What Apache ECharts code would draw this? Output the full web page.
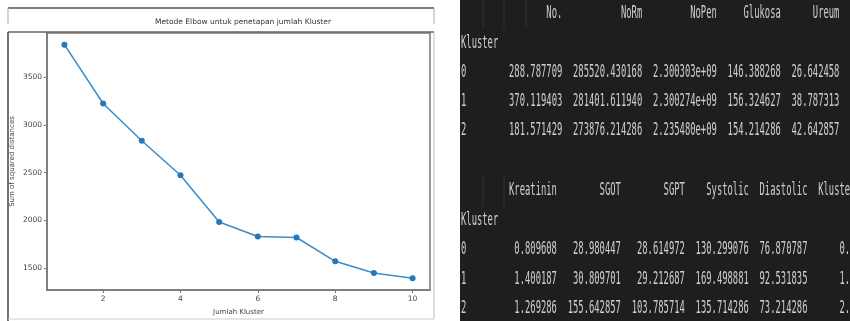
<!DOCTYPE html>
<html>
<head>
<meta charset="utf-8">
<script src="https://cdn.jsdelivr.net/npm/echarts@6/dist/echarts.min.js"></script>
<style>
  html, body { margin: 0; padding: 0; background: #fff; }
  #chart { width: 850px; height: 321px; }
</style>
</head>
<body>
<div id="chart"></div>
<script>
// elbow curve
const kluster = [1, 2, 3, 4, 5, 6, 7, 8, 9, 10];
const sse = [3842, 3225, 2835, 2473, 1983, 1831, 1821, 1572, 1449, 1393];
const xTicks = [2, 4, 6, 8, 10];
const yTicks = [1500, 2000, 2500, 3000, 3500];

// cluster mean tables (pandas output)
const indexName = 'Kluster';
const rowLabels = ['0', '1', '2'];
const cols1 = ['No.', 'NoRm', 'NoPen', 'Glukosa', 'Ureum'];
const rows1 = [
  ['288.787709', '285520.430168', '2.300303e+09', '146.388268', '26.642458'],
  ['370.119403', '281401.611940', '2.300274e+09', '156.324627', '38.787313'],
  ['181.571429', '273876.214286', '2.235480e+09', '154.214286', '42.642857']
];
const cols2 = ['Kreatinin', 'SGOT', 'SGPT', 'Systolic', 'Diastolic', 'Kluster'];
const rows2 = [
  ['0.809608', '28.980447', '28.614972', '130.299076', '76.870787', '0.0'],
  ['1.400187', '30.809701', '29.212687', '169.498881', '92.531835', '1.0'],
  ['1.269286', '155.642857', '103.785714', '135.714286', '73.214286', '2.0']
];

const chart = echarts.init(document.getElementById('chart'));

const MONO = '"DejaVu Sans Mono", "Liberation Mono", monospace';
const CH = 5.33;   // char advance in the squeezed screenshot
const X0 = 461;
const SQ = 0.52;   // horizontal squeeze
const TXT = '#cfcfcf';

function cellText(str, x, y, align) {
  return {
    type: 'text',
    x: x,
    y: y,
    scaleX: SQ,
    silent: true,
    style: {
      x: 0, y: 0,
      text: str,
      fill: TXT,
      font: '17px ' + MONO,
      textAlign: align,
      textVerticalAlign: 'middle'
    }
  };
}

function tableGraphics(cols, rows, ys) {
  const out = [];
  // column right edges, pandas style: width = max(header, values) + 2 spaces
  let end = indexName.length;
  const ends = cols.map((c, j) => {
    let w = c.length;
    rows.forEach((r) => { w = Math.max(w, r[j].length); });
    end += 2 + w;
    return end;
  });
  cols.forEach((c, j) => out.push(cellText(c, X0 + ends[j] * CH, ys[0], 'right')));
  out.push(cellText(indexName, X0, ys[1], 'left'));
  rows.forEach((r, i) => {
    out.push(cellText(rowLabels[i], X0, ys[i + 2], 'left'));
    r.forEach((v, j) => out.push(cellText(v, X0 + ends[j] * CH, ys[i + 2], 'right')));
  });
  return out;
}

function line(x1, y1, x2, y2, color, width) {
  return {
    type: 'line',
    silent: true,
    shape: { x1: x1, y1: y1, x2: x2, y2: y2 },
    style: { stroke: color, lineWidth: width || 1 }
  };
}

const graphics = [
  // frames round the matplotlib screenshot
  line(8, 8, 434, 8, '#555', 1.5),
  line(8, 8, 8, 24, '#aaa'),
  line(434, 8, 434, 24, '#aaa'),
  line(8, 32, 434, 32, '#666', 1.5),
  line(8, 32, 8, 321, '#444', 1.5),
  line(434, 32, 434, 319, '#bbb'),
  line(8, 319, 434, 319, '#ccc'),
  // dark table panel
  {
    type: 'rect',
    silent: true,
    shape: { x: 460, y: 0, width: 390, height: 321 },
    style: { fill: '#1e1e1e' }
  },
  line(483, 0, 483, 28, '#333'),
  line(504, 0, 504, 28, '#333'),
  line(526, 0, 526, 28, '#333'),
  line(483, 176, 483, 206, '#333'),
  line(504, 176, 504, 206, '#333')
]
  .concat(tableGraphics(cols1, rows1, [14, 44, 73, 102, 131]))
  .concat(tableGraphics(cols2, rows2, [191, 221, 250, 280, 309]));

const axisLine = { show: true, lineStyle: { color: '#777', width: 1.5 } };
const tickLabel = {
  fontFamily: 'DejaVu Sans',
  fontSize: 7.5,
  color: '#444',
  formatter: (v) => String(v)
};

chart.setOption({
  animation: false,
  backgroundColor: '#fff',
  title: {
    text: 'Metode Elbow untuk penetapan jumlah Kluster',
    left: 238,
    top: 13,
    textAlign: 'center',
    textStyle: { fontFamily: 'DejaVu Sans', fontSize: 7.5, fontWeight: 'normal', color: '#333' }
  },
  grid: { left: 47, top: 33, right: 420, bottom: 26, show: true, borderColor: '#777', borderWidth: 1.5 },
  xAxis: {
    type: 'value',
    min: 0.55,
    max: 10.45,
    name: 'Jumlah Kluster',
    nameLocation: 'middle',
    nameGap: 19,
    nameTextStyle: { fontFamily: 'DejaVu Sans', fontSize: 7, color: '#444' },
    axisLine: axisLine,
    axisTick: { show: true, length: 3, customValues: xTicks, lineStyle: { color: '#777' } },
    axisLabel: Object.assign({ customValues: xTicks, margin: 5 }, tickLabel),
    splitLine: { show: false }
  },
  yAxis: {
    type: 'value',
    min: 1271,
    max: 3964,
    name: 'Sum of squared distances',
    nameLocation: 'middle',
    nameGap: 31,
    nameTextStyle: { fontFamily: 'DejaVu Sans', fontSize: 7, color: '#444' },
    axisLine: axisLine,
    axisTick: { show: true, length: 3, customValues: yTicks, lineStyle: { color: '#777' } },
    axisLabel: Object.assign({ customValues: yTicks, margin: 5 }, tickLabel),
    splitLine: { show: false }
  },
  series: [
    {
      type: 'line',
      data: kluster.map((k, i) => [k, sse[i]]),
      symbol: 'circle',
      symbolSize: 6,
      itemStyle: { color: '#2678b8' },
      lineStyle: { color: '#3a8ccb', width: 1.5 }
    }
  ],
  graphic: graphics
});
</script>
</body>
</html>
